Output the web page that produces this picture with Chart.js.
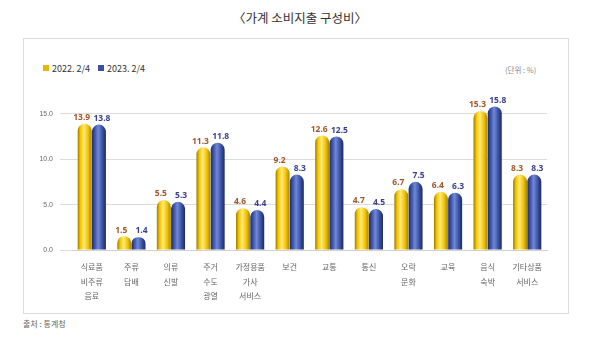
<!DOCTYPE html>
<html><head><meta charset="utf-8">
<script src="https://cdn.jsdelivr.net/npm/chart.js@4"></script>
<style>
html,body{margin:0;padding:0;background:#fff;width:600px;height:339px;overflow:hidden;font-family:"Noto Sans CJK KR","Noto Sans",sans-serif;}
#title{position:absolute;left:0;width:600px;top:8px;text-align:center;font-size:12.5px;color:#333;}
#box{position:absolute;left:23px;top:38px;width:544px;height:274px;border:1px solid #dcdcdc;}
#wrap{position:absolute;left:22px;top:38px;width:543px;height:275px;}
#legend{position:absolute;left:43px;top:62px;font-size:9px;color:#333;}
#legend span.sq{display:inline-block;width:6px;height:6px;margin-right:3px;vertical-align:1px;}
#unit{position:absolute;left:505px;top:64px;font-size:7.5px;color:#888;}
#src{position:absolute;left:23px;top:318px;font-size:8px;color:#666;}
</style></head>
<body>
<div id="title">〈가계 소비지출 구성비〉</div>
<div id="box"></div>
<div id="legend"><span class="sq" style="background:#e8b800"></span>2022. 2/4 &nbsp;&nbsp; <span class="sq" style="background:#3d4fa0"></span>2023. 2/4</div>
<div id="unit">(단위 : %)</div>
<div id="wrap"><canvas id="c" width="543" height="275"></canvas></div>
<div id="src">출처 : 통계청</div>
<script>
const categories = [['식료품','비주류','음료'], ['주류','담배'], ['의류','신발'], ['주거','수도','광열'], ['가정용품','가사','서비스'], '보건', '교통', '통신', ['오락','문화'], '교육', ['음식','숙박'], ['기타상품','서비스']];
const series2022 = [13.9, 1.5, 5.5, 11.3, 4.6, 9.2, 12.6, 4.7, 6.7, 6.4, 15.3, 8.3];
const series2023 = [13.8, 1.4, 5.3, 11.8, 4.4, 8.3, 12.5, 4.5, 7.5, 6.3, 15.8, 8.3];
const seriesNames = ['2022. 2/4', '2023. 2/4'];
const yTicks = [0, 5, 10, 15];

const CAT_PCT = 0.72, BAR_PCT = 0.98;
const palettes = [
  ['#9c7a00', '#f3c600', '#ffe97a', '#f0c200', '#a88300'],
  ['#1f2c66', '#3b52a6', '#7088d6', '#3a50a2', '#1c2860']
];
const labelColors = ['#a0562c', '#3a3f8c'];

function gradFor(ctx) {
  const chart = ctx.chart;
  const xs = chart.scales.x;
  const ds = ctx.datasetIndex;
  const pal = palettes[ds];
  if (!xs || xs.width === undefined || ctx.dataIndex === undefined) return pal[1];
  const catW = xs.width / categories.length;
  const barW = catW * CAT_PCT / 2 * BAR_PCT;
  const center = xs.getPixelForValue(ctx.dataIndex) + (ds === 0 ? -1 : 1) * catW * CAT_PCT / 4;
  const l = center - barW / 2, r = center + barW / 2;
  const g = chart.ctx.createLinearGradient(l, 0, r, 0);
  g.addColorStop(0, pal[0]);
  g.addColorStop(0.2, pal[1]);
  g.addColorStop(0.45, pal[2]);
  g.addColorStop(0.75, pal[3]);
  g.addColorStop(1, pal[4]);
  return g;
}

const valueLabels = {
  id: 'valueLabels',
  afterDatasetsDraw(chart) {
    const c = chart.ctx;
    c.save();
    c.font = 'bold 8.5px "Noto Sans","Noto Sans CJK KR",sans-serif';
    c.textAlign = 'center';
    c.textBaseline = 'bottom';
    chart.data.datasets.forEach((d, di) => {
      const meta = chart.getDatasetMeta(di);
      meta.data.forEach((el, i) => {
        c.fillStyle = labelColors[di];
        c.fillText(d.data[i].toFixed(1), el.x + (di === 0 ? -3 : 3), el.y - 2);
      });
    });
    c.restore();
  }
};

new Chart(document.getElementById('c'), {
  type: 'bar',
  data: {
    labels: categories,
    datasets: [
      { label: seriesNames[0], data: series2022, backgroundColor: gradFor },
      { label: seriesNames[1], data: series2023, backgroundColor: gradFor }
    ]
  },
  options: {
    responsive: false,
    animation: false,
    events: [],
    layout: { padding: { top: 53, left: 0, right: 18, bottom: 0 } },
    datasets: { bar: { categoryPercentage: CAT_PCT, barPercentage: BAR_PCT, borderRadius: { topLeft: 7, topRight: 7, bottomLeft: 0, bottomRight: 0 }, borderSkipped: false } },
    plugins: { legend: { display: false }, tooltip: { enabled: false } },
    scales: {
      x: {
        grid: { display: false },
        border: { display: true, color: '#d0d0d0' },
        ticks: { color: '#666', font: { size: 8, family: '"Noto Sans CJK KR",sans-serif', lineHeight: 1.8 }, maxRotation: 0, autoSkip: false, padding: 2 },
        afterFit: s => { s.height = 63; }
      },
      y: {
        min: 0, max: 17.5,
        afterBuildTicks: s => { s.ticks = yTicks.map(v => ({ value: v })); },
        grid: { color: '#dcdcdc', tickLength: 12, tickColor: '#dcdcdc' },
        border: { display: false },
        ticks: { color: '#666', font: { size: 7 }, padding: 7, callback: v => Number(v).toFixed(1) },
        afterFit: s => { s.width = 50; }
      }
    }
  },
  plugins: [valueLabels]
});
</script>
</body></html>
